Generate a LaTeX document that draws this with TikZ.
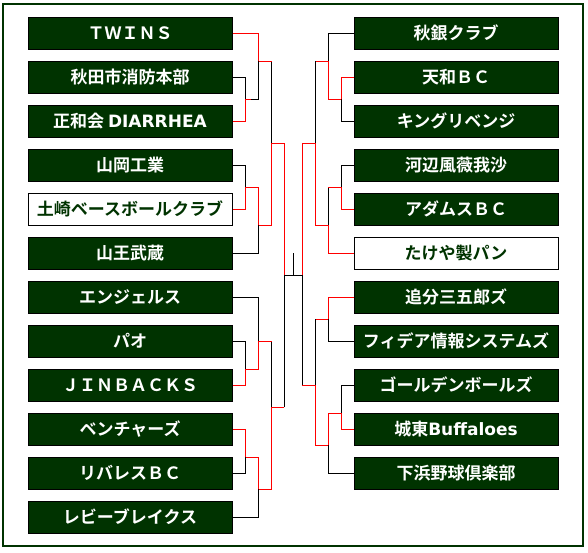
\documentclass[tikz,border=0pt]{standalone}
\usepackage{fontspec}
\newfontfamily\jp{Noto Sans CJK JP}[BoldFont={Noto Sans CJK JP Bold}]
\newfontfamily\lat{DejaVu Sans}
\definecolor{tgreen}{HTML}{003300}
\tikzset{
  team/.style={draw=black, line width=1pt, fill=tgreen, text=white,
    minimum width=204pt, minimum height=32pt, inner sep=0pt,
    text height=15pt, text depth=2pt,
    font=\fontsize{17}{17}\selectfont\bfseries\jp},
  teamw/.style={team, fill=white, text=tgreen},
  win/.style={draw=red, line width=1pt},
  lose/.style={draw=black, line width=1pt},
  frame/.style={draw=tgreen, line width=2pt}
}
\begin{document}
\begin{tikzpicture}[x=1pt,y=-1pt]
\useasboundingbox (0,0) rectangle (588,553);
\draw[frame] (3,4) rectangle (582.5,545.7);
% left teams
\node[team]  (L1)  at (130,33.3)  {ＴＷＩＮＳ};
\node[team]  (L2)  at (130,77.3)  {秋田市消防本部};
\node[team]  (L3)  at (130,121.3) {正和会\ {\lat\bfseries DIARRHEA}};
\node[team]  (L4)  at (130,165.3) {山岡工業};
\node[teamw] (L5)  at (130,209.3) {土崎ベースボールクラブ};
\node[team]  (L6)  at (130,253.3) {山王武蔵};
\node[team]  (L7)  at (130,297.3) {エンジェルス};
\node[team]  (L8)  at (130,341.3) {パオ};
\node[team]  (L9)  at (130,385.3) {ＪＩＮＢＡＣＫＳ};
\node[team]  (L10) at (130,429.3) {ベンチャーズ};
\node[team]  (L11) at (130,473.3) {リバレスＢＣ};
\node[team]  (L12) at (130,517.3) {レビーブレイクス};
% right teams
\node[team]  (R1)  at (456,33.3)  {秋銀クラブ};
\node[team]  (R2)  at (456,77.3)  {天和ＢＣ};
\node[team]  (R3)  at (456,121.3) {キングリベンジ};
\node[team]  (R4)  at (456,165.3) {河辺風薇我沙};
\node[team]  (R5)  at (456,209.3) {アダムスＢＣ};
\node[teamw] (R6)  at (456,253.3) {たけや製パン};
\node[team]  (R7)  at (456,297.3) {追分三五郎ズ};
\node[team]  (R8)  at (456,341.3) {フィデア情報システムズ};
\node[team]  (R9)  at (456,385.3) {ゴールデンボールズ};
\node[team]  (R10) at (456,429.3) {城東{\lat\bfseries Buffaloes}};
\node[team]  (R11) at (456,473.3) {下浜野球倶楽部};
% junctions
\coordinate (a1) at (245.7,99.3);
\coordinate (a1m) at (251.2,99.3);
\coordinate (a2) at (245.7,187.3);
\coordinate (a3) at (245.7,369.3);
\coordinate (a4) at (245.7,457.3);
\coordinate (b1) at (258.7,61.3);
\coordinate (b2) at (258.7,225.3);
\coordinate (b3) at (258.7,341.3);
\coordinate (b4) at (258.7,489.3);
\coordinate (c1) at (271.7,143.3);
\coordinate (c2) at (271.7,407.3);
\coordinate (d1) at (284.3,275.3);
\coordinate (e1) at (341.3,99.3);
\coordinate (e2) at (341.3,187.3);
\coordinate (e3) at (341.7,413.3);
\coordinate (f1) at (328.3,61.3);
\coordinate (f2) at (328.3,225.3);
\coordinate (f3) at (328.3,319.3);
\coordinate (f4) at (328.3,445.3);
\coordinate (g1) at (315.7,143.3);
\coordinate (g2) at (315.7,385.3);
\coordinate (h1) at (302.3,275.3);
\coordinate (st) at (293.3,253.3);
% ---- black (losing) lines
\draw[lose] (L2.east) -| (a1);
\draw[lose] (L4.east) -| (a2);
\draw[lose] (L8.east) -| (a3);
\draw[lose] (L11.east) -| (a4);
\draw[lose] (a1m) -| (b1);
\draw[lose] (L6.east) -| (b2);
\draw[lose] (L7.east) -| (b3);
\draw[lose] (L12.east) -| (b4);
\draw[lose] (b1 -| c1) -- (c1);
\draw[lose] (b3 -| c2) -- (c2);
\draw[lose] (c2 -| d1) -- (d1);
\draw[lose] (R3.west) -| (e1);
\draw[lose] (R4.west) -| (e2);
\draw[lose] (R9.west) -| (e3);
\draw[lose] (R1.west) -| (f1);
\draw[lose] (e2 -| f2) -- (f2);
\draw[lose] (R8.west) -| (f3);
\draw[lose] (R11.west) -| (f4);
\draw[lose] (f1 -| g1) -- (g1);
\draw[lose] (f3 -| g2) -- (g2);
\draw[lose] (g2 -| h1) -- (h1);
\draw[lose] (d1) -- (h1);
\draw[lose] (st) -- (st |- d1);
% ---- red (winning) lines
\draw[win] (L3.east) -| (a1);
\draw[win] (L5.east) -| (a2);
\draw[win] (L9.east) -| (a3);
\draw[win] (L10.east) -| (a4);
\draw[win] (L1.east) -| (b1);
\draw[win] (a1) -- (a1m);
\draw[win] (a2) -| (b2);
\draw[win] (a3) -| (b3);
\draw[win] (a4) -| (b4);
\draw[win] (b1) -- (b1 -| c1);
\draw[win] (b2) -| (c1);
\draw[win] (b3) -- (b3 -| c2);
\draw[win] (b4) -| (c2);
\draw[win] (c1) -| (d1);
\draw[win] (c2) -- (c2 -| d1);
\draw[win] (R2.west) -| (e1);
\draw[win] (R5.west) -| (e2);
\draw[win] (R10.west) -| (e3);
\draw[win] (e1) -| (f1);
\draw[win] (e2) -- (e2 -| f2);
\draw[win] (R6.west) -| (f2);
\draw[win] (R7.west) -| (f3);
\draw[win] (e3) -| (f4);
\draw[win] (f1) -- (f1 -| g1);
\draw[win] (f2) -| (g1);
\draw[win] (f3) -- (f3 -| g2);
\draw[win] (f4) -| (g2);
\draw[win] (g1) -| (h1);
\draw[win] (g2) -- (g2 -| h1);
\end{tikzpicture}
\end{document}
